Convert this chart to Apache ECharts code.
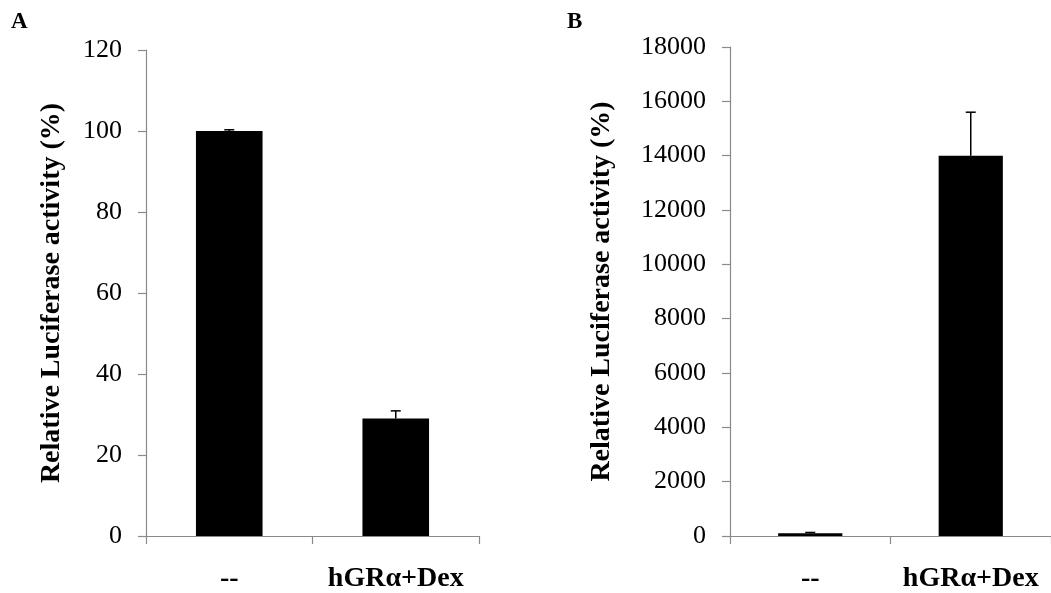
<!DOCTYPE html>
<html>
<head>
<meta charset="utf-8">
<script src="https://cdn.jsdelivr.net/npm/echarts@6/dist/echarts.min.js"></script>
<style>
  html, body { margin: 0; padding: 0; background: #fff; }
  #chart { width: 1051px; height: 593px; }
</style>
</head>
<body>
<div id="chart"></div>
<script>
'use strict';
// values
const categories = ['--', 'hGRα+Dex'];
const activityA = [100, 29];
const errorA = [0.3, 1.9];
const activityB = [100, 14000];
const errorB = [30, 1600];
const yAxisTitle = 'Relative Luciferase activity (%)';

const serif = 'Liberation Serif';
const axisGrey = '#8a8a8a';

function errorData(vals, errs) {
  return vals.map((v, i) => [i, v, v + errs[i]]);
}

function renderError(params, api) {
  const base = api.coord([api.value(0), api.value(1)]);
  const top = api.coord([api.value(0), api.value(2)]);
  const half = 5;
  const style = { stroke: '#000', lineWidth: 1.5 };
  return {
    type: 'group',
    children: [
      { type: 'line', shape: { x1: base[0], y1: base[1], x2: top[0], y2: top[1] }, style },
      { type: 'line', shape: { x1: top[0] - half, y1: top[1], x2: top[0] + half, y2: top[1] }, style }
    ]
  };
}

function xAxis(gridIndex) {
  return {
    type: 'category',
    gridIndex,
    data: categories,
    axisLine: { show: true, lineStyle: { color: axisGrey, width: 1.2 } },
    axisTick: { show: true, length: 8, lineStyle: { color: axisGrey, width: 1.2 } },
    axisLabel: {
      interval: 0, hideOverlap: false, margin: 29,
      color: '#000', fontFamily: serif, fontSize: 28, fontWeight: 'bold'
    }
  };
}

function yAxis(gridIndex, max, interval, nameGap) {
  return {
    type: 'value',
    gridIndex,
    min: 0,
    max,
    interval,
    name: yAxisTitle,
    nameLocation: 'middle',
    nameGap,
    nameRotate: 90,
    nameTextStyle: { color: '#000', fontFamily: serif, fontSize: 28, fontWeight: 'bold' },
    axisLine: { show: true, lineStyle: { color: axisGrey, width: 1.2 } },
    axisTick: { show: true, length: 8, lineStyle: { color: axisGrey, width: 1.2 } },
    axisLabel: {
      margin: 24, color: '#000', fontFamily: serif, fontSize: 26,
      formatter: v => String(v)
    },
    splitLine: { show: false }
  };
}

const chart = echarts.init(document.getElementById('chart'));
chart.setOption({
  animation: false,
  backgroundColor: '#fff',
  title: [
    { text: 'A', left: 11, top: 11, padding: 0, textStyle: { fontFamily: serif, fontSize: 23, fontWeight: 'bold', color: '#000' } },
    { text: 'B', left: 567, top: 11, padding: 0, textStyle: { fontFamily: serif, fontSize: 23, fontWeight: 'bold', color: '#000' } }
  ],
  grid: [
    { left: 146, top: 50, width: 333, height: 487 },
    { left: 730, top: 47, width: 327, height: 490 }
  ],
  xAxis: [xAxis(0), xAxis(1)],
  yAxis: [yAxis(0, 120, 20, 80), yAxis(1, 18000, 2000, 114)],
  series: [
    { type: 'bar', xAxisIndex: 0, yAxisIndex: 0, data: activityA, barWidth: '40%', itemStyle: { color: '#000' } },
    { type: 'custom', xAxisIndex: 0, yAxisIndex: 0, data: errorData(activityA, errorA), renderItem: renderError, z: 5 },
    { type: 'bar', xAxisIndex: 1, yAxisIndex: 1, data: activityB, barWidth: '40%', itemStyle: { color: '#000' } },
    { type: 'custom', xAxisIndex: 1, yAxisIndex: 1, data: errorData(activityB, errorB), renderItem: renderError, z: 5 }
  ]
});
</script>
</body>
</html>
